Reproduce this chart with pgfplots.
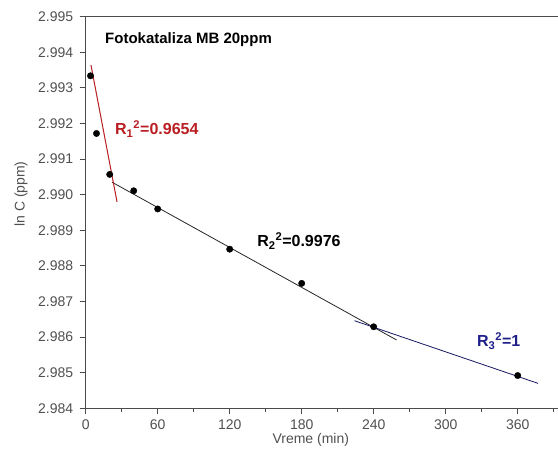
\documentclass[border=0pt]{standalone}
\usepackage{pgfplots}
\pgfplotsset{compat=1.18}
\usepackage{fontspec}
\setmainfont{Liberation Sans}
\definecolor{axgray}{HTML}{4A4A4A}
\definecolor{tickgray}{HTML}{505050}
\definecolor{rred}{HTML}{B81E22}
\definecolor{navy}{HTML}{1F1F8A}
\pgfplotstableread{
x y
4 2.99334
9 2.99172
20 2.99057
40 2.99011
60 2.98960
120 2.98847
180 2.98751
240 2.98629
360 2.98492
}\datatable
\begin{document}
\begin{tikzpicture}
\begin{axis}[
  at={(0,0)}, anchor=south west,
  scale only axis,
  width=480pt, height=391.6pt,
  xmin=0, xmax=400,
  ymin=2.984, ymax=2.995,
  axis line style={axgray, line width=1.2pt},
  xtick={0,60,...,360}, minor xtick={30,90,...,390},
  ytick={2.984,2.985,...,2.995}, minor y tick num=1,
  xtick pos=bottom, ytick pos=left,
  tick align=outside,
  major tick length=6pt, minor tick length=3.5pt,
  major tick style={axgray, line width=1pt},
  minor tick style={axgray, line width=1pt},
  scaled y ticks=false,
  /pgf/number format/assume math mode=true,
  yticklabel style={/pgf/number format/fixed, /pgf/number format/fixed zerofill, /pgf/number format/precision=3, xshift=-3pt},
  ticklabel style={font=\fontsize{14}{16}\selectfont, text=tickgray},
  xticklabel style={yshift=-2pt},
  xlabel={Vreme (min)},
  ylabel={ln C (ppm)},
  label style={font=\fontsize{14}{16}\selectfont, text=tickgray},
  xlabel style={at={(axis description cs:0.469,-0.081)}, anchor=center},
  ylabel style={at={(axis description cs:-0.135,0.547)}, anchor=center},
  clip=false,
]
\addplot[black!85, line width=0.8pt, no marks] coordinates {(22,2.99035) (259,2.98592)};
\addplot[navy!70!black, line width=0.8pt, no marks] coordinates {(224,2.98646) (377,2.98470)};
\addplot[rred, line width=1pt, no marks] coordinates {(4.4,2.99364) (26.1,2.98980)};
\addplot[only marks, mark=*, mark size=3.2pt, black] table[x=x, y=y] {\datatable};
\node[anchor=west, font=\fontsize{15}{17}\selectfont\bfseries] at (axis cs:13.3,2.99437) {Fotokataliza MB 20ppm};
\node[anchor=base west, font=\fontsize{16}{18}\selectfont\bfseries, text=rred, inner sep=0pt] at (axis cs:24.4,2.99168) {R\textsubscript{1}\textsuperscript{2}=0.9654};
\node[anchor=base west, font=\fontsize{16}{18}\selectfont\bfseries, text=black, inner sep=0pt] at (axis cs:142.8,2.98854) {R\textsubscript{2}\textsuperscript{2}=0.9976};
\node[anchor=base west, font=\fontsize{16}{18}\selectfont\bfseries, text=navy, inner sep=0pt] at (axis cs:326,2.98573) {R\textsubscript{3}\textsuperscript{2}=1};
\end{axis}
\pgfresetboundingbox
\useasboundingbox (-85.7pt,-47.7pt) rectangle (472.3pt,408.3pt);
\end{tikzpicture}
\end{document}
